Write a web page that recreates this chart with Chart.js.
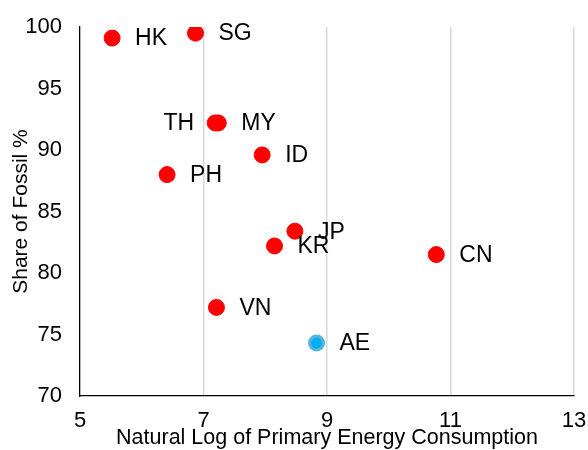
<!DOCTYPE html>
<html>
<head>
<meta charset="utf-8">
<script src="https://cdn.jsdelivr.net/npm/chart.js@4/dist/chart.umd.min.js"></script>
<style>
html,body{margin:0;padding:0;background:#fff;}
#c{display:block;}
</style>
</head>
<body>
<canvas id="c" width="588" height="450"></canvas>
<script>
// ---- data ----
const countries   = ['HK', 'SG', 'TH', 'MY', 'ID', 'PH', 'JP', 'KR', 'CN', 'VN'];
const energyLog   = [5.52, 6.87, 7.19, 7.24, 7.95, 6.41, 8.48, 8.15, 10.77, 7.21];
const fossilShare = [99.1, 99.5, 92.2, 92.2, 89.6, 88.0, 83.4, 82.2, 81.5, 77.2];
const hlCountries   = ['AE'];
const hlEnergyLog   = [8.83];
const hlFossilShare = [74.3];
const xTicks = [5, 7, 9, 11, 13];
const yTicks = [70, 75, 80, 85, 90, 95, 100];
const xTitle = 'Natural Log of Primary Energy Consumption';
const yTitle = 'Share of Fossil %';

const FONT = '"Liberation Sans", Arial, sans-serif';
const leftLabels = ['TH'];

const toPts = (xs, ys, names) => xs.map((x, i) => ({x: x, y: ys[i], name: names[i]}));

const labelPlugin = {
  id: 'pointLabels',
  afterDatasetsDraw(chart) {
    const ctx = chart.ctx;
    ctx.save();
    ctx.font = '23px ' + FONT;
    ctx.fillStyle = '#000';
    ctx.textBaseline = 'middle';
    chart.data.datasets.forEach((ds, di) => {
      const meta = chart.getDatasetMeta(di);
      meta.data.forEach((el, i) => {
        const name = ds.data[i].name;
        if (leftLabels.includes(name)) {
          ctx.textAlign = 'right';
          ctx.fillText(name, el.x - 21, el.y + 1);
        } else {
          ctx.textAlign = 'left';
          ctx.fillText(name, el.x + 23, el.y + 1);
        }
      });
    });
    ctx.restore();
  }
};

new Chart(document.getElementById('c'), {
  type: 'scatter',
  data: {
    datasets: [
      {
        data: toPts(energyLog, fossilShare, countries),
        backgroundColor: '#FF0000',
        borderColor: '#FF0000',
        borderWidth: 1,
        pointRadius: 8,
        pointHoverRadius: 8
      },
      {
        data: toPts(hlEnergyLog, hlFossilShare, hlCountries),
        backgroundColor: '#00B0F0',
        borderColor: '#55B4E4',
        borderWidth: 3,
        pointRadius: 7,
        pointHoverRadius: 7
      }
    ]
  },
  options: {
    responsive: false,
    animation: false,
    layout: {padding: {top: 27, right: 14, left: 0, bottom: 0}},
    plugins: {legend: {display: false}, tooltip: {enabled: false}, title: {display: false}},
    scales: {
      x: {
        type: 'linear',
        min: xTicks[0],
        max: xTicks[xTicks.length - 1],
        afterBuildTicks: s => { s.ticks = xTicks.map(v => ({value: v})); },
        afterFit: s => { s.height = 54; s.paddingLeft = 0; s.paddingRight = 0; },
        ticks: {color: '#000', font: {family: FONT, size: 22}, padding: 12, maxRotation: 0},
        grid: {
          drawTicks: false,
          color: c => (c.tick && c.tick.value === xTicks[0]) ? 'rgba(0,0,0,0)' : '#D9D9D9',
          lineWidth: 1.5
        },
        border: {display: true, color: '#000', width: 1.3},
        title: {display: true, text: xTitle, color: '#000', font: {family: FONT, size: 21.5}, padding: {top: 0, bottom: -1}}
      },
      y: {
        type: 'linear',
        min: yTicks[0],
        max: yTicks[yTicks.length - 1],
        afterBuildTicks: s => { s.ticks = yTicks.map(v => ({value: v})); },
        afterFit: s => { s.width = 80; s.paddingTop = 0; s.paddingBottom = 0; },
        ticks: {color: '#000', font: {family: FONT, size: 22}, padding: 18},
        grid: {display: false, drawTicks: false},
        border: {display: true, color: '#000', width: 1.3},
        title: {display: true, text: yTitle, color: '#000', font: {family: FONT, size: 21}, padding: {top: 9, bottom: 0}}
      }
    }
  },
  plugins: [labelPlugin]
});
</script>
</body>
</html>
